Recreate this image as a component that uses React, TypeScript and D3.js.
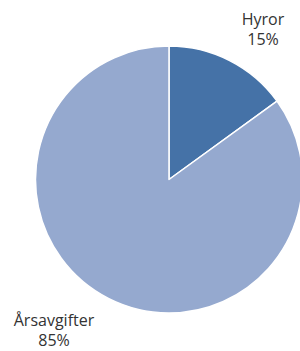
import React, { useEffect, useRef } from 'react';
import * as d3 from 'd3';

const categories = ['Hyror', 'Årsavgifter'];
const shares = [15, 85];
const colors = ['#4572a7', '#95a9cf'];

const App: React.FC = () => {
    const svgRef = useRef<SVGSVGElement | null>(null);
    const width = 300;
    const height = 351;

    useEffect(() => {
        const svg = d3.select(svgRef.current)
            .attr('width', width)
            .attr('height', height);

        svg.selectAll('*').remove();

        const cx = 169;
        const cy = 179.5;
        const radius = 133.5;

        const data = categories.map((c, i) => ({ name: c, value: shares[i], color: colors[i] }));

        const pie = d3.pie<{ name: string; value: number; color: string }>()
            .sort(null)
            .value(d => d.value);

        const arc = d3.arc<d3.PieArcDatum<{ name: string; value: number; color: string }>>()
            .innerRadius(0)
            .outerRadius(radius);

        const g = svg.append('g').attr('transform', `translate(${cx},${cy})`);

        g.selectAll('path')
            .data(pie(data))
            .join('path')
            .attr('d', arc)
            .attr('fill', d => d.data.color)
            .attr('stroke', '#ffffff')
            .attr('stroke-width', 1.5)
            .attr('stroke-linejoin', 'round');

        // labels placed outside, like the original
        const labelPos = [
            { x: 263, y: 25 },
            { x: 54, y: 326 },
        ];

        data.forEach((d, i) => {
            const t = svg.append('text')
                .attr('x', labelPos[i].x)
                .attr('y', labelPos[i].y)
                .attr('text-anchor', 'middle')
                .attr('font-family', '"Open Sans", sans-serif')
                .attr('font-size', 16)
                .attr('fill', '#333333');
            t.append('tspan').attr('x', labelPos[i].x).text(d.name);
            t.append('tspan').attr('x', labelPos[i].x).attr('dy', 20).text(`${d.value}%`);
        });
    }, []);

    return <svg ref={svgRef} style={{ position: 'absolute', left: 0, top: 0 }}></svg>;
};

export default App;
